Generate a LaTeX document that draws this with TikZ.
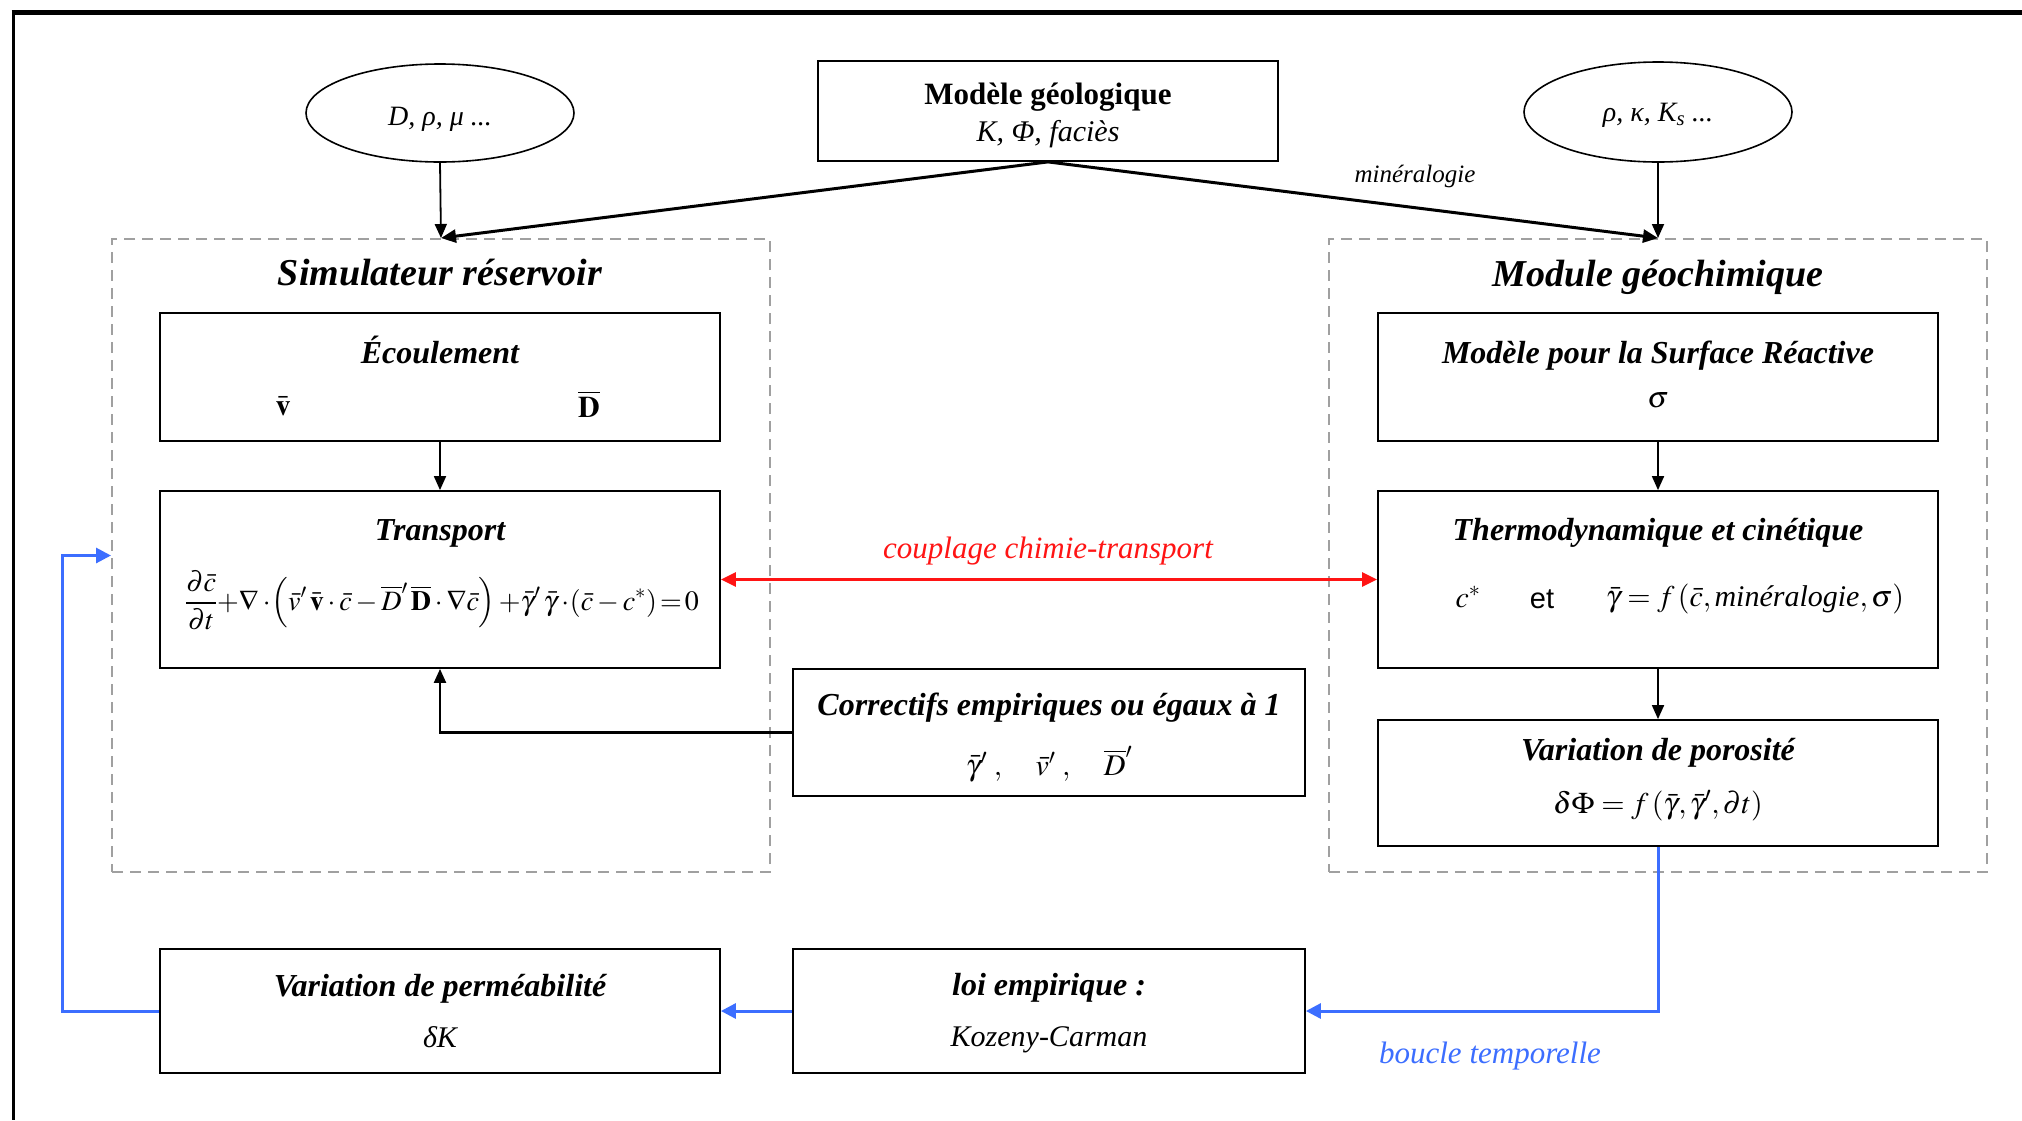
\documentclass[tikz,border=0pt]{standalone}
\usepackage{mathptmx}
\usepackage[no-math]{fontspec}
\setmainfont{Liberation Serif}
\newfontfamily\sansf{Liberation Sans}
\usetikzlibrary{arrows.meta,shapes.geometric,calc}
\definecolor{loopblue}{RGB}{60,110,255}
\definecolor{dashgray}{RGB}{160,160,160}
\definecolor{cplred}{RGB}{255,20,20}
\begin{document}
\begin{tikzpicture}[x=1pt,y=-1pt,
  box/.style={draw=black,line width=1.8pt,rectangle,inner sep=0pt},
  ell/.style={draw=black,line width=1.6pt,ellipse,inner sep=0pt},
  group/.style={draw=dashgray,line width=2pt,dash pattern=on 11pt off 7pt,rectangle,inner sep=0pt},
  ttl/.style={font=\fontsize{32}{38}\selectfont\bfseries\itshape},
  grp/.style={font=\fontsize{38}{44}\selectfont\bfseries\itshape},
  itl/.style={font=\fontsize{30}{36}\selectfont\itshape},
  mth/.style={font=\fontsize{30}{36}\selectfont},
  arr/.style={-{Triangle[length=14pt,width=12pt]},line width=1.8pt},
  thick arr/.style={-{Triangle[length=15pt,width=13pt]},line width=3pt},
  blu/.style={-{Triangle[length=15pt,width=15pt]},line width=3pt,draw=loopblue}]
\fill[white] (0,0) rectangle (2022,1120);
\useasboundingbox (0,0) rectangle (2022,1120);
% outer frame
\draw[line width=5pt] (11.5,12.5) -- (2022,12.5);
\draw[line width=3pt] (13,10) -- (13,1120);

% top row
\node[ell,minimum width=268pt,minimum height=98pt] (ell1) at (440,113) {};
\node[font=\fontsize{28}{34}\selectfont\itshape] (ell1t) at (440,119) {D, ρ, μ ...};
\node[ell,minimum width=268pt,minimum height=100pt] (ell2) at (1658,112) {};
\node[font=\fontsize{28}{34}\selectfont\itshape] (ell2t) at (1658,115) {ρ, κ, K\textsubscript{s} ...};
\node[box,minimum width=460pt,minimum height=100pt] (geo) at (1048,111) {};
\node[font=\fontsize{31}{36}\selectfont\bfseries] (geot) at (1048,97) {Modèle géologique};
\node[itl] (geos) at (1048,134) {K, Φ, faciès};

% groups
\node[group,minimum width=658pt,minimum height=633pt] (simbox) at (441,555.5) {};
\node[grp] (simt) at (440,273) {Simulateur réservoir};
\node[group,minimum width=658pt,minimum height=633pt] (geobox) at (1658,555.5) {};
\node[grp] (geot2) at (1658,277) {Module géochimique};

% left column
\node[box,minimum width=560pt,minimum height=128pt] (ecoul) at (440,377) {};
\node[ttl] (ecoult) at (440,350) {Écoulement};
\node[mth] (vv) at (283,406) {$\bar{\mathbf{v}}$};
\node[mth] (vd) at (589,404) {$\overline{\mathbf{D}}$};
\node[box,minimum width=560pt,minimum height=177pt] (transport) at (440,579.5) {};
\node[ttl] (transt) at (440,533) {Transport};
\node[font=\fontsize{28}{33}\selectfont] (eq) at (442,600) {$\displaystyle\frac{\partial \bar c}{\partial t}{+}\nabla\cdot\!\left(\bar v'\,\bar{\mathbf{v}}\cdot\bar c-\overline{D}'\,\overline{\mathbf{D}}\cdot\nabla\bar c\right){+}\bar\gamma'\,\bar\gamma\cdot\!\left(\bar c-c^{*}\right){=}\,0$};
\node[box,minimum width=512pt,minimum height=127pt] (corr) at (1049,732.5) {};
\node[ttl] (corrt) at (1049,708) {Correctifs empiriques ou égaux à 1};
\node[mth] (corrs) at (1049,764) {$\bar\gamma'\;,\quad \bar v'\;,\quad \overline{D}'$};

% right column
\node[box,minimum width=560pt,minimum height=128pt] (surf) at (1658,377) {};
\node[ttl] (surft) at (1658,356) {Modèle pour la Surface Réactive};
\node[mth] (sig) at (1658,400) {$\sigma$};
\node[box,minimum width=560pt,minimum height=177pt] (thermo) at (1658,579.5) {};
\node[ttl] (thermot) at (1658,533) {Thermodynamique et cinétique};
\node[mth] (cstar) at (1468,597) {$c^{*}$};
\node[font=\fontsize{29}{34}\selectfont\sansf] (et) at (1542,599) {et};
\node[mth] (gamf) at (1755,599) {$\bar\gamma = f\left(\bar c,\textit{minéralogie},\sigma\right)$};
\node[box,minimum width=560pt,minimum height=126pt] (poro) at (1658,783) {};
\node[ttl] (porot) at (1658,753) {Variation de porosité};
\node[mth] (poros) at (1658,806) {$\delta\Phi = f\left(\bar\gamma,\bar\gamma',\partial t\right)$};

% bottom row
\node[box,minimum width=560pt,minimum height=124pt] (perm) at (440,1011) {};
\node[ttl] (permt) at (440,989) {Variation de perméabilité};
\node[itl] (perms) at (440,1037) {δK};
\node[box,minimum width=512pt,minimum height=124pt] (loi) at (1049,1011) {};
\node[ttl] (loit) at (1049,988) {loi empirique :};
\node[itl] (lois) at (1049,1040) {Kozeny-Carman};

% labels
\node[font=\fontsize{25}{30}\selectfont\itshape] (minl) at (1415,176) {minéralogie};
\node[font=\fontsize{31}{36}\selectfont\itshape,text=cplred] (cpl) at (1048,551) {couplage chimie-transport};
\node[font=\fontsize{31}{36}\selectfont\itshape,text=loopblue] (bcl) at (1490,1056) {boucle temporelle};

% connectors
\draw[arr] (ell1.south) -- (simbox.north);
\draw[arr] (ell2.south) -- (geobox.north);
\draw[thick arr] (geo.south) -- (simbox.north);
\draw[thick arr] (geo.south) -- (geobox.north);
\draw[arr] (ecoul.south) -- (transport.north);
\draw[arr,line width=2.2pt] (corr.west) -| (transport.south);
\draw[arr] (surf.south) -- (thermo.north);
\draw[arr] (thermo.south) -- (poro.north);
\draw[{Triangle[length=15pt,width=14pt]}-{Triangle[length=15pt,width=14pt]},line width=2.5pt,draw=cplred] (transport.east) -- (thermo.west);
\draw[blu] (poro.south) |- (loi.east);
\draw[blu] (loi.west) -- (perm.east);
\coordinate (loopc) at (62,1011);
\draw[blu] (perm.west) -- (loopc) |- (simbox.west);
\end{tikzpicture}
\end{document}
